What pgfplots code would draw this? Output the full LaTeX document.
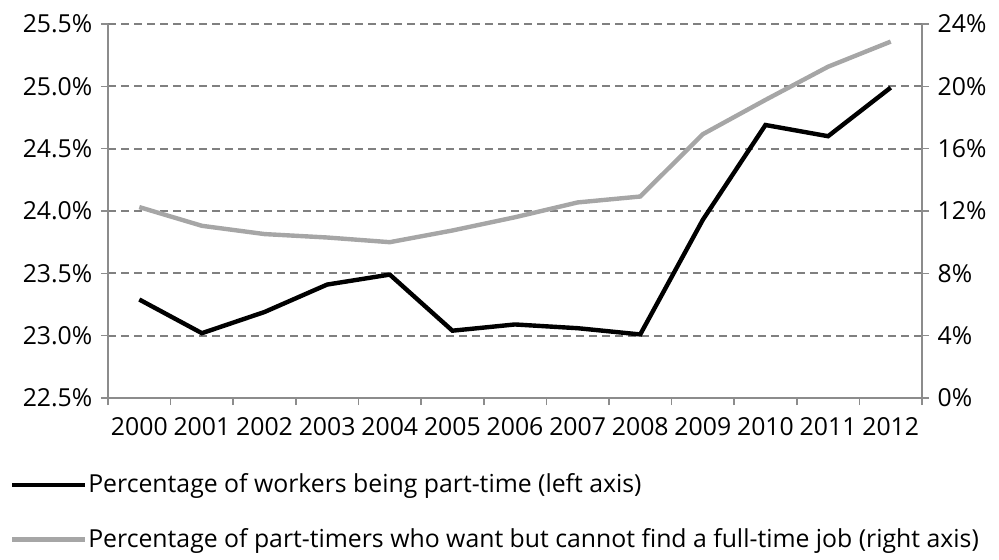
\documentclass[border=0pt]{standalone}
\usepackage{fontspec}
\setmainfont{Open Sans}
\usepackage{pgfplots}
\pgfplotsset{compat=1.18}
\definecolor{gridgray}{RGB}{128,128,128}
\definecolor{axgray}{RGB}{140,140,140}
\definecolor{linegray}{RGB}{166,166,166}
\begin{document}
\fontsize{12.4}{14.5}\selectfont
\begin{tikzpicture}
\pgfplotsset{
  every axis/.append style={
    scale only axis, width=407pt, height=187pt,
    xmin=-0.5, xmax=12.5,
    /pgf/number format/assume math mode=true,
    tick align=outside, major tick length=3.5pt,
    axis line style={axgray, line width=0.8pt},
    tick style={axgray, line width=0.8pt},
  }
}
\begin{axis}[
  axis y line*=left, axis x line*=bottom,
  ymin=22.5, ymax=25.5, ytick={22.5,23,...,25.5},
  yticklabel={\pgfmathprintnumber[fixed,fixed zerofill,precision=1]{\tick}\%},
  xtick={-0.5,0.5,...,12.5},
  xticklabels={2000,2001,2002,2003,2004,2005,2006,2007,2008,2009,2010,2011,2012},
  x tick label as interval,
  xticklabel style={yshift=-2pt},
  ymajorgrids, grid style={gridgray, dash pattern=on 4pt off 2.5pt, line width=0.9pt},
  legend style={at={(-0.121,-0.19)}, anchor=north west, draw=none, fill=none,
    row sep=12pt, cells={anchor=west}, inner sep=0pt,
    nodes={inner xsep=0.5pt}},
  legend image code/.code={\draw[#1] (0pt,0pt) -- (36.5pt,0pt);},
]
\addplot[black, line width=2.2pt] coordinates {
  (0,23.29) (1,23.02) (2,23.19) (3,23.41) (4,23.49) (5,23.04) (6,23.09)
  (7,23.06) (8,23.01) (9,23.93) (10,24.69) (11,24.60) (12,24.99)
};
\addlegendentry{Percentage of workers being part-time (left axis)}
\addlegendimage{linegray, line width=2.2pt}
\addlegendentry{Percentage of part-timers who want but cannot find a full-time job (right axis)}
\end{axis}
\begin{axis}[
  axis y line*=right, hide x axis,
  ymin=0, ymax=24, ytick={0,4,...,24},
  yticklabel={\pgfmathprintnumber{\tick}\%},
]
\addplot[linegray, line width=2.2pt] coordinates {
  (0,12.25) (1,11.05) (2,10.52) (3,10.3) (4,10.0) (5,10.75) (6,11.6)
  (7,12.55) (8,12.93) (9,16.93) (10,19.13) (11,21.26) (12,22.87)
};
\end{axis}
\useasboundingbox (-54pt,-80.5pt) rectangle (445.5pt,199pt);
\end{tikzpicture}
\end{document}
